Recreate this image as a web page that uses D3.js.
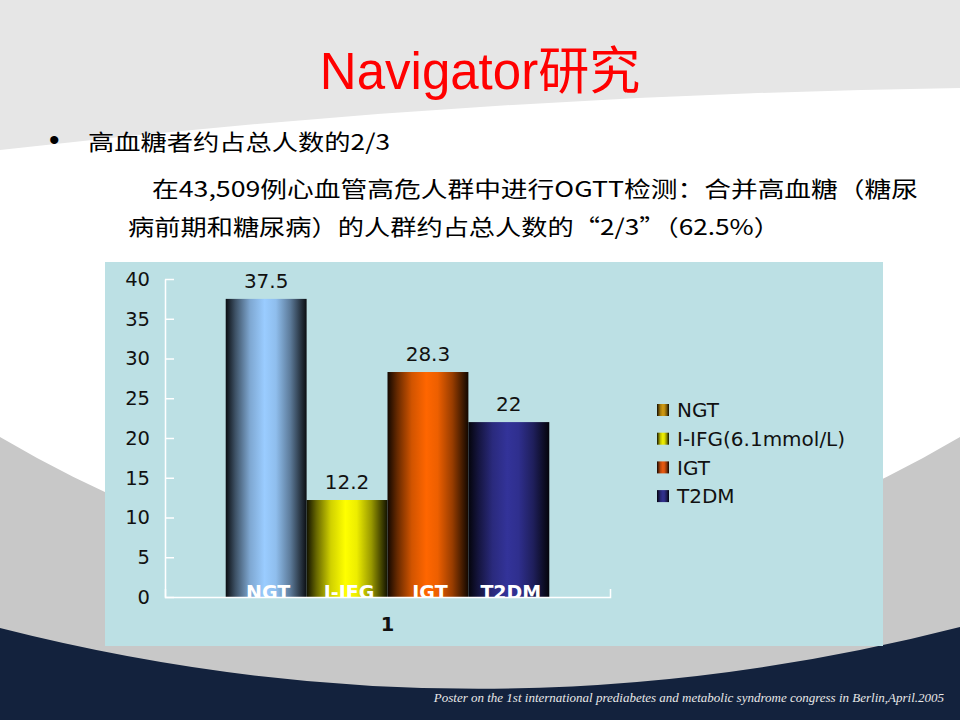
<!DOCTYPE html>
<html>
<head>
<meta charset="utf-8">
<script src="https://cdn.jsdelivr.net/npm/d3@7"></script>
<style>
  body { margin: 0; background: #fff; }
  svg { display: block; }
</style>
</head>
<body>
<script>
// chart data
var categories = ["1"];
var series = ["NGT", "I-IFG", "IGT", "T2DM"];
var legendLabels = ["NGT", "I-IFG(6.1mmol/L)", "IGT", "T2DM"];
var values = [37.5, 12.2, 28.3, 22];
var yTicks = [0, 5, 10, 15, 20, 25, 30, 35, 40];
var barColors = ["#9accff", "#ffff00", "#ff6600", "#333399"];
var legendColors = ["#d09a10", "#f0f000", "#e85a10", "#30308e"];

var W = 960, H = 720;
var svg = d3.select("body").append("svg")
    .attr("width", W)
    .attr("height", H);

var defs = svg.append("defs");

// slide background
svg.append("rect").attr("width", W).attr("height", H).attr("fill", "#e6e6e6");
svg.append("path")
    .attr("d", "M0,150 Q480,95 960,88 L960,720 L0,720 Z")
    .attr("fill", "#ffffff");
svg.append("path")
    .attr("d", "M0,437 Q480,720 960,437 L960,720 L0,720 Z")
    .attr("fill", "#c8c8c8");
svg.append("path")
    .attr("d", "M0,628 Q480,750 960,627 L960,720 L0,720 Z")
    .attr("fill", "#13223d");

// title + text
svg.append("text")
    .attr("x", 480).attr("y", 89)
    .attr("text-anchor", "middle")
    .style("font-family", "'Liberation Sans', 'Noto Sans CJK SC', sans-serif")
    .style("font-size", "51px")
    .attr("fill", "#ff0000")
    .text("Navigator研究");

var cjk = "'Noto Sans CJK SC', 'DejaVu Sans', sans-serif";
svg.append("text")
    .attr("x", 49).attr("y", 150)
    .style("font-family", "'Liberation Sans', sans-serif").style("font-size", "30px")
    .text("•");

var lines = [
  {t: "高血糖者约占总人数的2/3", x: 88, y: 150, w: 302},
  {t: "在43,509例心血管高危人群中进行OGTT检测：合并高血糖（糖尿", x: 152, y: 197, w: 766},
  {t: "病前期和糖尿病）的人群约占总人数的“2/3”（62.5%）", x: 128, y: 235, w: 652}
];
svg.selectAll(".line-txt").data(lines).enter().append("text")
    .attr("class", "line-txt")
    .attr("x", function(d) { return d.x; })
    .attr("y", function(d) { return d.y; })
    .attr("textLength", function(d) { return d.w; })
    .attr("lengthAdjust", "spacingAndGlyphs")
    .style("font-family", cjk).style("font-size", "22px")
    .attr("fill", "#000")
    .text(function(d) { return d.t; });

// chart area
svg.append("rect")
    .attr("x", 105).attr("y", 262)
    .attr("width", 778).attr("height", 384)
    .attr("fill", "#bce0e4");

var margin = {top: 279, left: 165},
    width = 610 - 165,
    height = 597 - 279;

var g = svg.append("g")
    .attr("transform", "translate(" + margin.left + "," + margin.top + ")");

var y = d3.scaleLinear().domain([0, 40]).range([height, 0]);
var x0 = d3.scaleBand().domain(categories).range([0, width])
    .paddingInner(0.158).paddingOuter(0.158);
var x1 = d3.scaleBand().domain(series).range([0, x0.bandwidth()]);

// shaded cylinder look
var shade = [[0, 0.07], [0.12, 0.4], [0.3, 0.82], [0.48, 1], [0.62, 0.93], [0.8, 0.6], [0.93, 0.25], [1, 0.07]];
function addGrad(id, col) {
  var lg = defs.append("linearGradient").attr("id", id)
      .attr("x1", "0%").attr("x2", "100%").attr("y1", "0%").attr("y2", "0%");
  var mix = d3.interpolateRgb("#000000", col);
  shade.forEach(function(s) {
    lg.append("stop").attr("offset", s[0]).attr("stop-color", mix(s[1]));
  });
}
series.forEach(function(s, i) {
  addGrad("bar" + i, barColors[i]);
  addGrad("leg" + i, legendColors[i]);
});

defs.append("clipPath").attr("id", "plotclip")
  .append("rect").attr("x", 0).attr("y", 0).attr("width", width).attr("height", height + 0.5);

var grp = g.selectAll(".cat").data(categories).enter().append("g")
    .attr("class", "cat")
    .attr("transform", function(d) { return "translate(" + x0(d) + ",0)"; });

var rows = series.map(function(s, i) { return {name: s, value: values[i], i: i}; });

grp.selectAll("rect").data(rows).enter().append("rect")
    .attr("x", function(d) { return x1(d.name); })
    .attr("y", function(d) { return y(d.value); })
    .attr("width", x1.bandwidth())
    .attr("height", function(d) { return height - y(d.value); })
    .attr("fill", function(d) { return "url(#bar" + d.i + ")"; });

grp.selectAll(".val").data(rows).enter().append("text")
    .attr("class", "val")
    .attr("x", function(d) { return x1(d.name) + x1.bandwidth() / 2; })
    .attr("y", function(d) { return y(d.value) - 11; })
    .attr("text-anchor", "middle")
    .style("font-family", "'DejaVu Sans', sans-serif").style("font-size", "20px")
    .attr("fill", "#111")
    .text(function(d) { return d.value; });

grp.append("g").attr("clip-path", "url(#plotclip)")
  .selectAll(".nm").data(rows).enter().append("text")
    .attr("class", "nm")
    .attr("x", function(d) { return x1(d.name) + x1.bandwidth() / 2 + 2; })
    .attr("y", height + 2)
    .attr("text-anchor", "middle")
    .style("font-family", "'DejaVu Sans', sans-serif").style("font-size", "19px")
    .style("font-weight", "bold")
    .attr("fill", "#ffffff")
    .text(function(d) { return d.name; });

// axes
var yAxis = g.append("g")
    .call(d3.axisLeft(y).tickValues(yTicks).tickSize(-9).tickSizeOuter(0).tickPadding(15));
var xAxis = g.append("g")
    .attr("transform", "translate(0," + height + ")")
    .call(d3.axisBottom(x0).tickSize(0).tickSizeOuter(-8).tickPadding(20));

[yAxis, xAxis].forEach(function(a) {
  a.select(".domain").attr("stroke", "#ffffff").attr("stroke-width", 1.5);
  a.selectAll(".tick line").attr("stroke", "#ffffff").attr("stroke-width", 1.5);
  a.selectAll("text").attr("fill", "#111")
      .style("font-family", "'DejaVu Sans', sans-serif").style("font-size", "19.5px");
});
xAxis.selectAll("text").style("font-weight", "bold");

// legend
var leg = svg.append("g").attr("transform", "translate(657,410)");
var li = leg.selectAll(".li").data(legendLabels).enter().append("g")
    .attr("transform", function(d, i) { return "translate(0," + (i * 28.7) + ")"; });
li.append("rect")
    .attr("x", 0).attr("y", -6).attr("width", 12).attr("height", 12)
    .attr("fill", function(d, i) { return "url(#leg" + i + ")"; });
li.append("text")
    .attr("x", 20).attr("dy", "0.36em")
    .style("font-family", "'DejaVu Sans', sans-serif").style("font-size", "20px")
    .attr("fill", "#111")
    .text(function(d) { return d; });

// footer
svg.append("text")
    .attr("x", 944).attr("y", 702)
    .attr("text-anchor", "end")
    .style("font-family", "'Liberation Serif', serif").style("font-style", "italic")
    .style("font-size", "13px")
    .attr("fill", "#e8e8e8")
    .text("Poster on the 1st international prediabetes and metabolic syndrome congress in Berlin,April.2005");
</script>
</body>
</html>
